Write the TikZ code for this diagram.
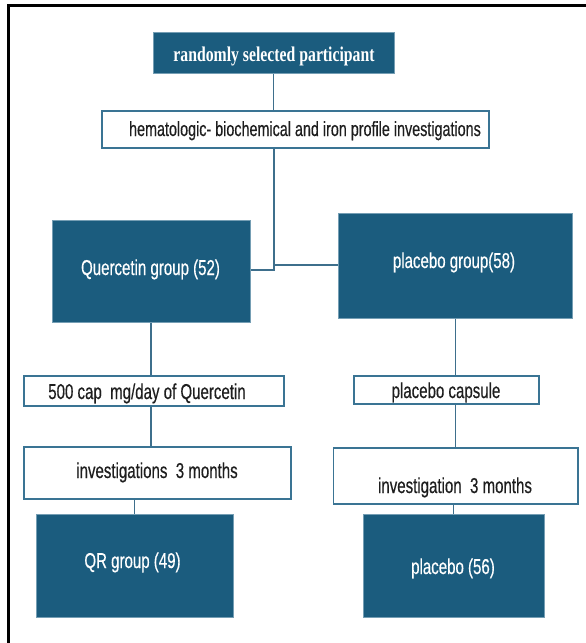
\documentclass[tikz,border=0pt]{standalone}
\usepackage{fontspec}
\setmainfont{Liberation Sans}
\newfontfamily\narrowsans[FakeStretch=0.7,FakeBold=0.4]{Liberation Sans}
\newfontfamily\narrowserif[FakeStretch=0.75]{Liberation Serif}
\definecolor{boxblue}{HTML}{1B5C7E}
\definecolor{edgeblue}{HTML}{3A7494}
\definecolor{lineblue}{HTML}{3E6F8C}
\definecolor{txtdark}{HTML}{1E1E1E}
\tikzset{
  x=1pt, y=-1pt,
  dbox/.style={rectangle, anchor=north west, inner sep=0pt, fill=boxblue, draw=edgeblue!70!white, line width=0.6pt},
  wbox/.style={rectangle, anchor=north west, inner sep=0pt, fill=white, draw=edgeblue, line width=1.6pt},
  conn/.style={draw=lineblue, line width=1.3pt},
  wtext/.style={anchor=base, inner sep=0pt, text=white, font=\narrowsans\fontsize{21.5}{24}\selectfont},
  ktext/.style={anchor=base, inner sep=0pt, text=txtdark, font=\narrowsans\fontsize{21.5}{24}\selectfont},
  frameline/.style={draw=black, line width=2.6pt}
}
\begin{document}
\begin{tikzpicture}
\useasboundingbox (0,0) rectangle (586,643);
% frame (top and left)
\coordinate (ftl) at (8.5,5.5);
\coordinate (ftr) at (586,5.5);
\coordinate (fbl) at (8.5,643);
\draw[frameline] (ftr) -- (ftl) -- (fbl);

% boxes
\node[dbox, minimum width=241pt, minimum height=41pt] (top) at (153,32) {};
\node[wbox, minimum width=387pt, minimum height=37pt] (hem) at (101,110) {};
\node[dbox, minimum width=198.5pt, minimum height=102pt] (q) at (51.5,220) {};
\node[dbox, minimum width=234pt, minimum height=105pt] (p) at (338,213) {};
\node[wbox, minimum width=260pt, minimum height=30pt] (cap) at (23,375) {};
\node[wbox, minimum width=185pt, minimum height=28pt] (pc) at (353,375) {};
\node[wbox, minimum width=267pt, minimum height=52pt] (inv1) at (23,446) {};
\node[wbox, minimum width=244.5pt, minimum height=56pt] (inv2) at (332.5,447) {};
\node[dbox, minimum width=197pt, minimum height=103pt] (qr) at (35.5,514) {};
\node[dbox, minimum width=181pt, minimum height=103pt] (p56) at (362.5,514) {};

% texts
\node[anchor=base, inner sep=0pt, text=white, font=\narrowserif\bfseries\fontsize{21}{24}\selectfont] (ttop) at (274,61) {randomly selected participant};
\node[ktext, font=\narrowsans\fontsize{20.5}{24}\selectfont] (them) at (305,136) {hematologic- biochemical and iron profile investigations};
\node[wtext] (tq) at (150.5,275) {Quercetin group (52)};
\node[wtext] (tp) at (454,268) {placebo group(58)};
\node[ktext] (tcap) at (147,399) {500 cap\ \ mg/day of Quercetin};
\node[ktext] (tpc) at (446,398) {placebo capsule};
\node[ktext] (tinv1) at (157,478) {investigations\ \ 3 months};
\node[ktext] (tinv2) at (455,493) {investigation\ \ 3 months};
\node[wtext] (tqr) at (132.5,568) {QR group (49)};
\node[wtext] (tp56) at (453,574) {placebo (56)};

% connectors
\coordinate (jl) at (274,270);
\coordinate (jr) at (274,265);
\draw[conn] (top.south) -- (top.south |- hem.north);
\draw[conn] (jl |- hem.south) -- (jl) -- (jl -| q.east);
\draw[conn] (jr) -- (jr -| p.west);
\draw[conn] (q.south) -- (q.south |- cap.north);
\draw[conn] (q.south |- cap.south) -- (q.south |- inv1.north);
\draw[conn] (qr.north |- inv1.south) -- (qr.north);
\draw[conn] (p.south) -- (p.south |- pc.north);
\draw[conn] (p.south |- pc.south) -- (p.south |- inv2.north);
\draw[conn] (p56.north |- inv2.south) -- (p56.north);
\end{tikzpicture}
\end{document}
